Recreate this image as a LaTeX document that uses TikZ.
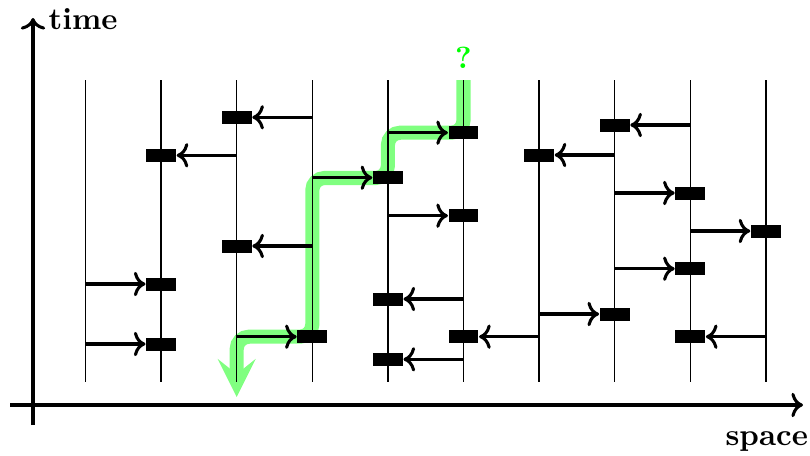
\documentclass[tikz,border=0pt]{standalone}
\usetikzlibrary{arrows.meta}
\definecolor{pathgreen}{rgb}{0.5,1,0.5}
\definecolor{qgreen}{rgb}{0,1,0}
\begin{document}
\begin{tikzpicture}[x=0.327pt,y=-0.327pt,
  proc/.style={line width=0.4pt},
  msgbox/.style={rectangle,fill=black,inner sep=0pt,minimum width=9.8pt,minimum height=4.25pt},
  msg/.style={->,line width=1pt},
  axis/.style={->,line width=1pt},
  route/.style={-{Stealth[length=12.5pt,width=12.5pt,inset=5pt,line width=0pt]},
    line width=4.6pt,pathgreen,rounded corners=4pt},
  lbl/.style={inner sep=0pt,font=\bfseries}]
\useasboundingbox (0,0) rectangle (810,455);

% process x positions
\foreach \i in {0,...,9}{
  \pgfmathsetmacro{\px}{85.5+75.6*\i}
  \coordinate (top\i) at (\px,80);
  \coordinate (bot\i) at (\px,382);
}

% highlighted causal route (behind everything)
\draw[route] (top5) -- (463.5,132.7) -- (387.9,132.7) -- (387.9,178)
  -- (312.3,178) -- (312.3,336.7) -- (236.7,336.7) -- (236.7,397);

% process lines
\foreach \i in {0,...,9}{ \draw[proc] (top\i) -- (bot\i); }

% axes
\coordinate (yo) at (33,425);
\coordinate (yt) at (33,18);
\coordinate (xo) at (10,405);
\coordinate (xt) at (803,405);
\draw[axis] (yo) -- (yt);
\draw[axis] (xo) -- (xt);
\node[lbl,anchor=base west] (tlab) at (48,29.5) {time};
\node[lbl,anchor=base west] (slab) at (725,445) {space};
\node[lbl,anchor=base,text=qgreen] (q) at (463.5,68) {?};

% received messages
\node[msgbox] (b1a) at (161.1,155.3) {};
\node[msgbox] (b1b) at (161.1,284) {};
\node[msgbox] (b1c) at (161.1,344) {};
\node[msgbox] (b2a) at (236.7,117.3) {};
\node[msgbox] (b2b) at (236.7,246) {};
\node[msgbox] (b3a) at (312.3,336.7) {};
\node[msgbox] (b4a) at (387.9,177.7) {};
\node[msgbox] (b4b) at (387.9,299) {};
\node[msgbox] (b4c) at (387.9,359.3) {};
\node[msgbox] (b5a) at (463.5,132.7) {};
\node[msgbox] (b5b) at (463.5,215.7) {};
\node[msgbox] (b5c) at (463.5,336.7) {};
\node[msgbox] (b6a) at (539.1,155) {};
\node[msgbox] (b7a) at (614.7,125) {};
\node[msgbox] (b7b) at (614.7,314) {};
\node[msgbox] (b8a) at (690.3,193) {};
\node[msgbox] (b8b) at (690.3,268.7) {};
\node[msgbox] (b8c) at (690.3,336.7) {};
\node[msgbox] (b9a) at (765.9,231) {};

% send events
\coordinate (s01) at (85.5,284);
\coordinate (s02) at (85.5,344);
\coordinate (s21) at (236.7,155.3);
\coordinate (s22) at (236.7,336.7);
\coordinate (s31) at (312.3,117.3);
\coordinate (s32) at (312.3,246);
\coordinate (s33) at (312.3,177.7);
\coordinate (s41) at (387.9,132.7);
\coordinate (s42) at (387.9,215.7);
\coordinate (s51) at (463.5,299);
\coordinate (s52) at (463.5,359.3);
\coordinate (s61) at (539.1,336.7);
\coordinate (s62) at (539.1,314);
\coordinate (s71) at (614.7,155);
\coordinate (s72) at (614.7,193);
\coordinate (s73) at (614.7,268.7);
\coordinate (s81) at (690.3,125);
\coordinate (s82) at (690.3,231);
\coordinate (s91) at (765.9,336.7);

% messages
\draw[msg] (s01) -- (b1b.west);
\draw[msg] (s02) -- (b1c.west);
\draw[msg] (s21) -- (b1a.east);
\draw[msg] (s22) -- (b3a.west);
\draw[msg] (s31) -- (b2a.east);
\draw[msg] (s32) -- (b2b.east);
\draw[msg] (s33) -- (b4a.west);
\draw[msg] (s41) -- (b5a.west);
\draw[msg] (s42) -- (b5b.west);
\draw[msg] (s51) -- (b4b.east);
\draw[msg] (s52) -- (b4c.east);
\draw[msg] (s61) -- (b5c.east);
\draw[msg] (s62) -- (b7b.west);
\draw[msg] (s71) -- (b6a.east);
\draw[msg] (s72) -- (b8a.west);
\draw[msg] (s73) -- (b8b.west);
\draw[msg] (s81) -- (b7a.east);
\draw[msg] (s82) -- (b9a.west);
\draw[msg] (s91) -- (b8c.east);
\end{tikzpicture}
\end{document}
